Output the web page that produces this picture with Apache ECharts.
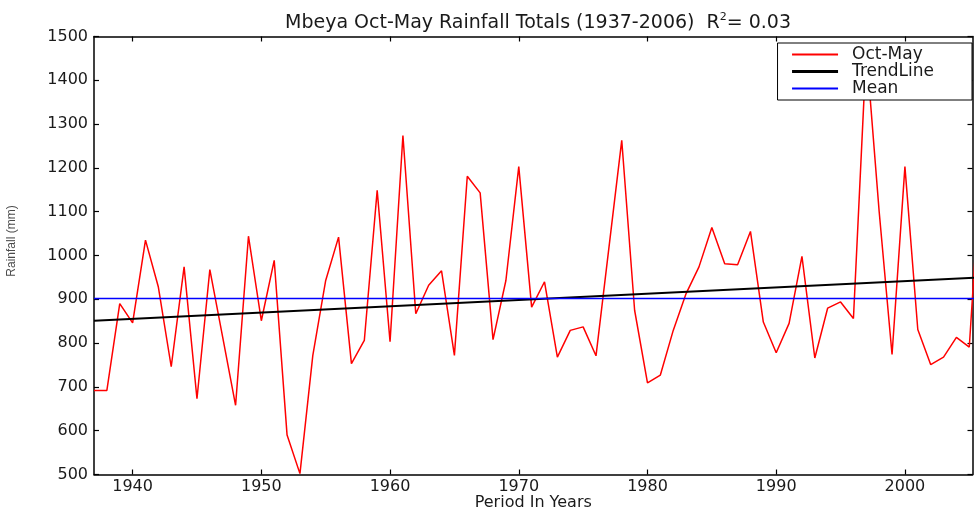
<!DOCTYPE html>
<html>
<head>
<meta charset="utf-8">
<script src="https://cdn.jsdelivr.net/npm/echarts@6/dist/echarts.min.js"></script>
<style>
  html, body { margin: 0; padding: 0; background: #fff; }
  #chart { width: 974px; height: 510px; }
</style>
</head>
<body>
<div id="chart"></div>
<script>
// Oct-May totals (mm), one per year 1937..2006
var years = [];
for (var y = 1937; y <= 2006; y++) years.push(y);

var rainfall = [
  692, 692, 890, 846, 1035, 928, 746, 974, 673, 968,
  813, 658, 1044, 851, 989, 590, 502, 772, 943, 1042,
  753, 806, 1149, 803, 1274, 867, 932, 965, 772, 1181,
  1143, 808, 943, 1203, 882, 940, 768, 829, 837, 771,
  1017, 1263, 875, 709, 727, 829, 913, 974, 1064, 981,
  979, 1055, 848, 778, 845, 998, 766, 880, 894, 856,
  1470, 1100, 774, 1203, 831, 751, 768, 813, 791, 1250
];

// trend line end points and mean
var trendEnds = [[1937, 851], [2006, 950]];
var meanValue = 902;

var xTicks = [1940, 1950, 1960, 1970, 1980, 1990, 2000];

var rainSeries = years.map(function (yr, i) { return [yr, rainfall[i]]; });
var meanSeries = [[1937, meanValue], [2006, meanValue]];

var font = 'DejaVu Sans';
var ink = '#1a1a1a';

var chart = echarts.init(document.getElementById('chart'), null, { renderer: 'canvas' });

var boxLine = { show: true, onZero: false, lineStyle: { color: '#000', width: 1.5 } };
var plain = function (v) { return String(v); };

chart.setOption({
  backgroundColor: '#fff',
  animation: false,
  title: {
    left: 533,
    top: 7,
    textAlign: 'center',
    text: '{t|Mbeya Oct-May Rainfall Totals (1937-2006)  R}{s|2}{t|= 0.03}',
    textStyle: {
      fontWeight: 'normal',
      rich: {
        t: { fontFamily: font, fontSize: 19, fontWeight: 'normal', color: ink, lineHeight: 22 },
        s: { fontFamily: font, fontSize: 11, fontWeight: 'normal', color: ink, verticalAlign: 'top' }
      }
    }
  },
  legend: {
    right: 2,
    top: 43,
    orient: 'vertical',
    align: 'left',
    backgroundColor: '#fff',
    borderColor: '#000',
    borderWidth: 1,
    padding: [3, 38, 3, 13],
    itemWidth: 46,
    itemHeight: 14,
    itemGap: 0,
    itemStyle: { opacity: 0, borderWidth: 0 },
    textStyle: { fontFamily: font, fontSize: 17, color: ink, lineHeight: 17, padding: [0, 0, 0, 9] },
    data: [
      { name: 'Oct-May' },
      { name: 'TrendLine', lineStyle: { width: 3 } },
      { name: 'Mean' }
    ]
  },
  grid: { left: 94, right: 1.5, top: 36.5, bottom: 35.5, outerBoundsMode: 'none', containLabel: false },
  xAxis: [{
    type: 'value',
    min: 1937,
    max: 2005.25,
    position: 'bottom',
    name: 'Period In Years',
    nameLocation: 'middle',
    nameGap: 20,
    nameMoveOverlap: false,
    nameTextStyle: { fontFamily: font, fontSize: 16, color: ink, lineHeight: 16 },
    axisLine: boxLine,
    axisTick: { inside: true, length: 5, customValues: xTicks, lineStyle: { color: '#000', width: 1.2 } },
    axisLabel: { customValues: xTicks, margin: 4, fontFamily: font, fontSize: 16, color: ink, formatter: plain },
    splitLine: { show: false }
  }, {
    type: 'value',
    min: 1937,
    max: 2005.25,
    position: 'top',
    axisLine: boxLine,
    axisTick: { inside: true, length: 5, customValues: xTicks, lineStyle: { color: '#000', width: 1.2 } },
    axisLabel: { show: false },
    splitLine: { show: false }
  }],
  yAxis: [{
    type: 'value',
    min: 500,
    max: 1500,
    interval: 100,
    position: 'left',
    axisLine: boxLine,
    axisTick: { inside: true, length: 5, lineStyle: { color: '#000', width: 1.2 } },
    axisLabel: { margin: 6, fontFamily: font, fontSize: 16, color: ink, formatter: plain },
    splitLine: { show: false }
  }, {
    type: 'value',
    min: 500,
    max: 1500,
    interval: 100,
    position: 'right',
    axisLine: boxLine,
    axisTick: { inside: true, length: 5, lineStyle: { color: '#000', width: 1.2 } },
    axisLabel: { show: false },
    splitLine: { show: false }
  }],
  graphic: [{
    type: 'text',
    x: 12,
    y: 241,
    rotation: Math.PI / 2,
    style: {
      text: 'Rainfall (mm)',
      fontFamily: 'Liberation Sans',
      fontSize: 12,
      fill: '#4a4a4a',
      align: 'center',
      verticalAlign: 'middle'
    }
  }],
  series: [{
    name: 'Oct-May',
    type: 'line',
    data: rainSeries,
    symbol: 'none',
    clip: true,
    lineStyle: { color: '#ff0000', width: 1.5 },
    itemStyle: { color: '#ff0000' }
  }, {
    name: 'TrendLine',
    type: 'line',
    data: trendEnds,
    symbol: 'none',
    clip: true,
    lineStyle: { color: '#000', width: 2 },
    itemStyle: { color: '#000' }
  }, {
    name: 'Mean',
    type: 'line',
    data: meanSeries,
    symbol: 'none',
    clip: true,
    lineStyle: { color: '#0000ff', width: 1.5 },
    itemStyle: { color: '#0000ff' }
  }]
});
</script>
</body>
</html>
